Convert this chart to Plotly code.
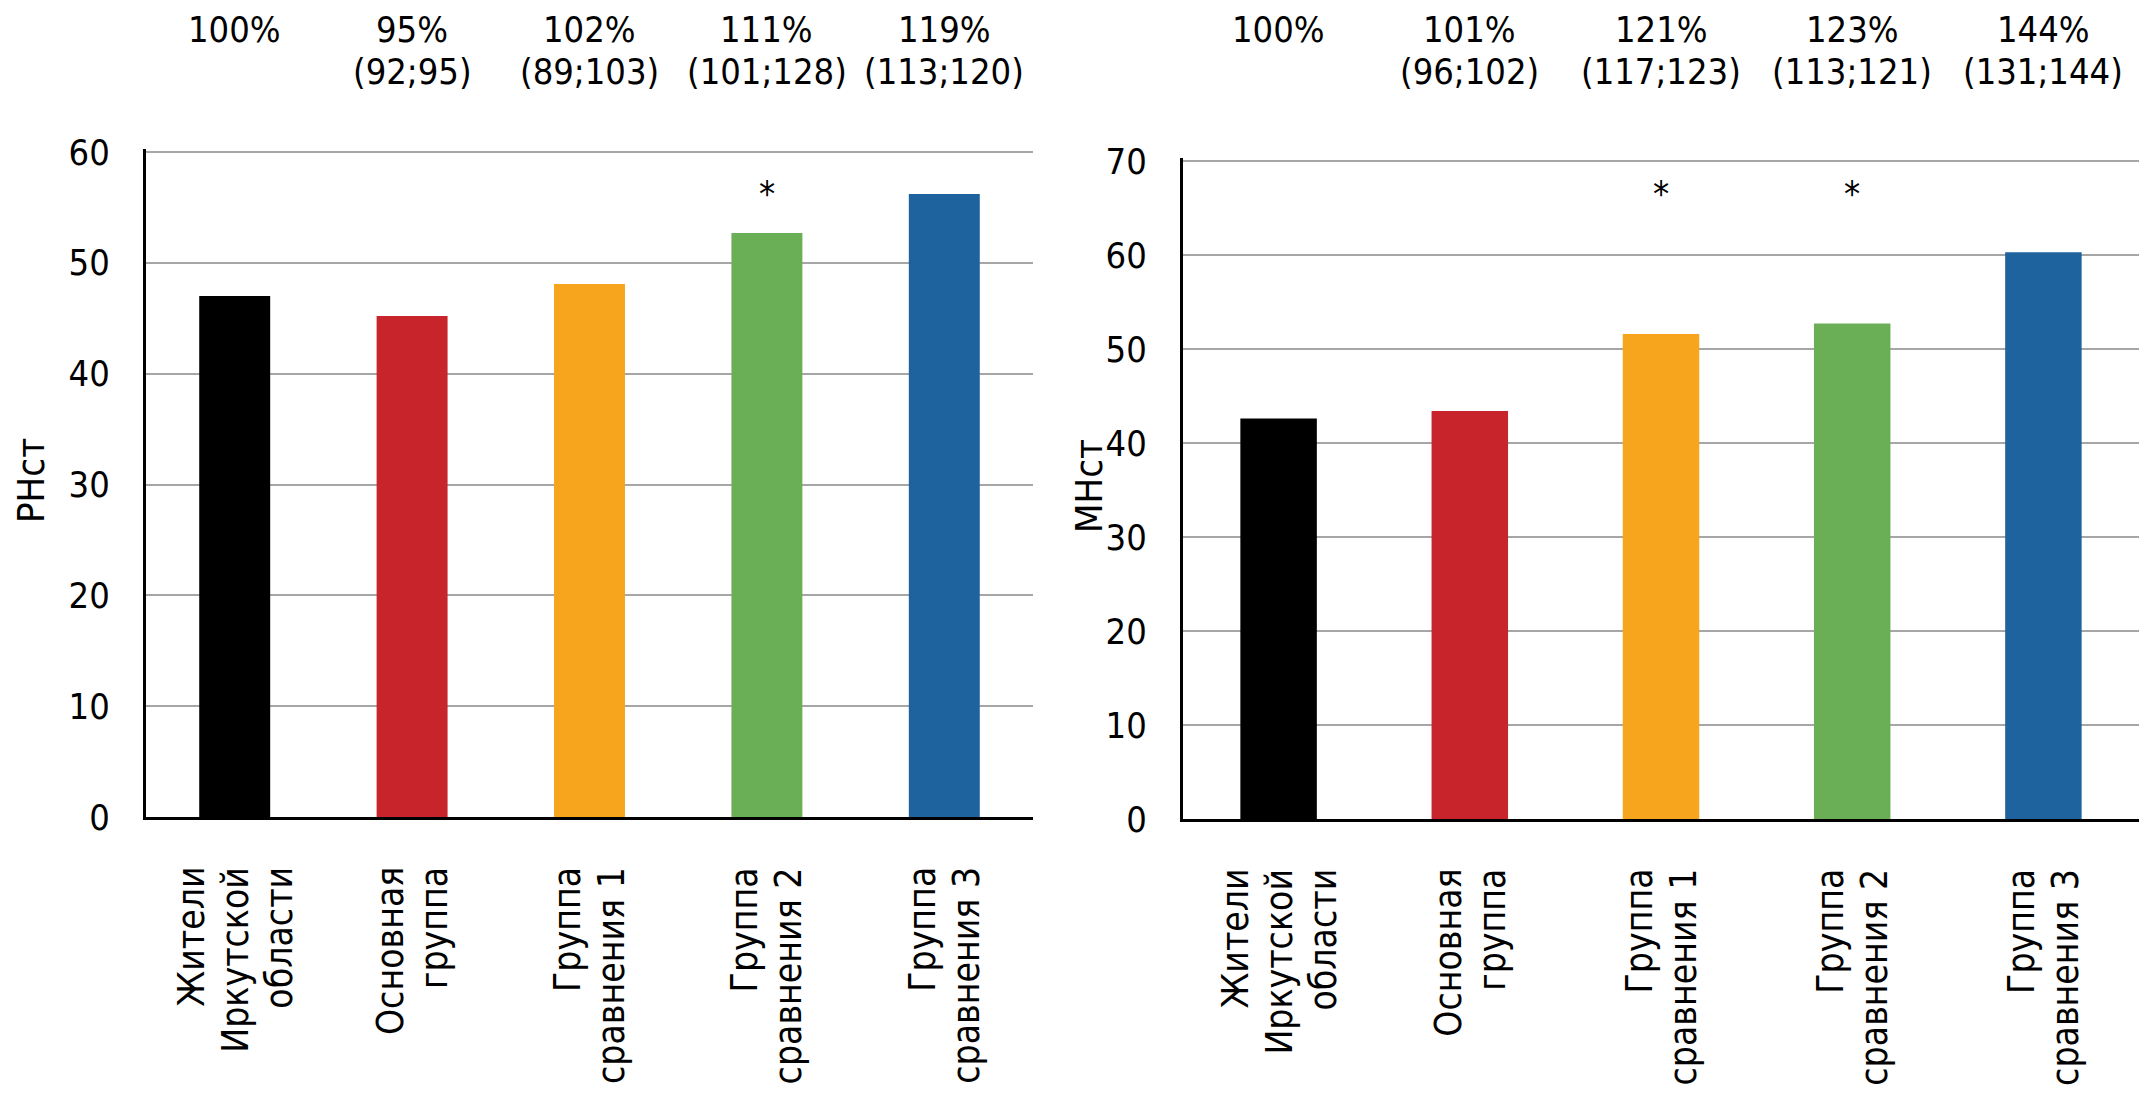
import plotly.graph_objects as go

categories = ["Жители<br>Иркутской<br>области", "Основная<br>группа",
              "Группа<br>сравнения 1", "Группа<br>сравнения 2", "Группа<br>сравнения 3"]
colors = ["#000000", "#c8242b", "#f7a51d", "#6aaf55", "#1f639e"]

rn_values = [47.0, 45.2, 48.1, 52.7, 56.2]
mn_values = [42.6, 43.4, 51.6, 52.7, 60.3]

rn_pct = ["100%", "95%", "102%", "111%", "119%"]
rn_ci = ["", "(92;95)", "(89;103)", "(101;128)", "(113;120)"]
mn_pct = ["100%", "101%", "121%", "123%", "144%"]
mn_ci = ["", "(96;102)", "(117;123)", "(113;121)", "(131;144)"]

rn_star = [False, False, False, True, False]
mn_star = [False, False, True, True, False]

W, H = 2139, 1116
COND = "DejaVu Sans Condensed, Liberation Sans Narrow, sans-serif"


def px_x(v):
    return v / W


def px_y(v):
    return 1 - v / H


fig = go.Figure()
fig.add_trace(go.Bar(x=categories, y=rn_values, marker=dict(color=colors, line=dict(width=0)),
                     width=0.4, xaxis="x", yaxis="y", showlegend=False, hoverinfo="y"))
fig.add_trace(go.Bar(x=categories, y=mn_values, marker=dict(color=colors, line=dict(width=0)),
                     width=0.4, xaxis="x2", yaxis="y2", showlegend=False, hoverinfo="y"))

common_y = dict(showgrid=True, gridcolor="#a6a6a6", gridwidth=1.5, showline=True,
                linecolor="#000000", linewidth=3, zeroline=False, dtick=10, tick0=0,
                tickfont=dict(family=COND, size=36, color="#000"), ticks="",
                ticklabelstandoff=26, automargin=False, fixedrange=True)
common_x = dict(showline=True, linecolor="#000000", linewidth=3, showgrid=False,
                showticklabels=False, ticks="", type="category", automargin=False,
                fixedrange=True)

# pixel geometry of the two plotting areas (target page pixels)
L_x0, L_x1, L_ytop, L_y0 = 146, 1033, 152, 817
R_x0, R_x1, R_ytop, R_y0 = 1183, 2139, 161, 819
L_max, R_max = 60, 70
L_pad, R_pad = 0.3, 0.3
L_top = L_ytop - L_pad * (L_y0 - L_ytop) / L_max
R_top = R_ytop - R_pad * (R_y0 - R_ytop) / R_max

fig.update_layout(
    width=W, height=H, paper_bgcolor="white", plot_bgcolor="white",
    margin=dict(l=0, r=0, t=0, b=0, pad=0),
    xaxis=dict(domain=[px_x(L_x0), px_x(L_x1)], anchor="y", **common_x),
    yaxis=dict(domain=[px_y(L_y0), px_y(L_top)], anchor="x",
               range=[0, L_max + L_pad], **common_y),
    xaxis2=dict(domain=[px_x(R_x0), min(1.0, px_x(R_x1))], anchor="y2", **common_x),
    yaxis2=dict(domain=[px_y(R_y0), px_y(R_top)], anchor="x2",
                range=[0, R_max + R_pad], **common_y),
)

ann = []
txt = dict(family=COND, size=36, color="#000")
for xr, pct, ci in (("x", rn_pct, rn_ci), ("x2", mn_pct, mn_ci)):
    for c, p, q in zip(categories, pct, ci):
        ann.append(dict(x=c, xref=xr, y=px_y(30), yref="paper", text=p, showarrow=False,
                        font=txt, xanchor="center", yanchor="middle"))
        if q:
            ann.append(dict(x=c, xref=xr, y=px_y(71), yref="paper", text=q, showarrow=False,
                            font=txt, xanchor="center", yanchor="middle"))

for xr, stars in (("x", rn_star), ("x2", mn_star)):
    for c, s in zip(categories, stars):
        if s:
            ann.append(dict(x=c, xref=xr, y=px_y(193), yref="paper", text="*", showarrow=False,
                            font=dict(family=COND, size=36, color="#000"),
                            xanchor="center", yanchor="middle"))

# rotated category labels (one annotation per line, ends aligned at top)
LINE_SP = 44
for xr, top in (("x", 865), ("x2", 867)):
    for c in categories:
        lines = c.split("<br>")
        n = len(lines)
        for i, ln in enumerate(lines):
            ann.append(dict(x=c, xref=xr, y=px_y(top), yref="paper", text=ln, textangle=-90,
                            showarrow=False, xanchor="center", yanchor="top",
                            xshift=(i - (n - 1) / 2) * LINE_SP,
                            font=dict(family=COND, size=37, color="#000")))

ann.append(dict(x=px_x(31), xref="paper", y=px_y(481), yref="paper", text="РНст", textangle=-90,
                showarrow=False, xanchor="center", yanchor="middle",
                font=dict(family=COND, size=38, color="#000")))
ann.append(dict(x=px_x(1089), xref="paper", y=px_y(486), yref="paper", text="МНст", textangle=-90,
                showarrow=False, xanchor="center", yanchor="middle",
                font=dict(family=COND, size=38, color="#000")))
fig.update_layout(annotations=ann)

fig.write_html("out.html",
               config={"displayModeBar": False},
               post_script="document.body.style.margin='0';document.body.style.overflow='hidden';")
